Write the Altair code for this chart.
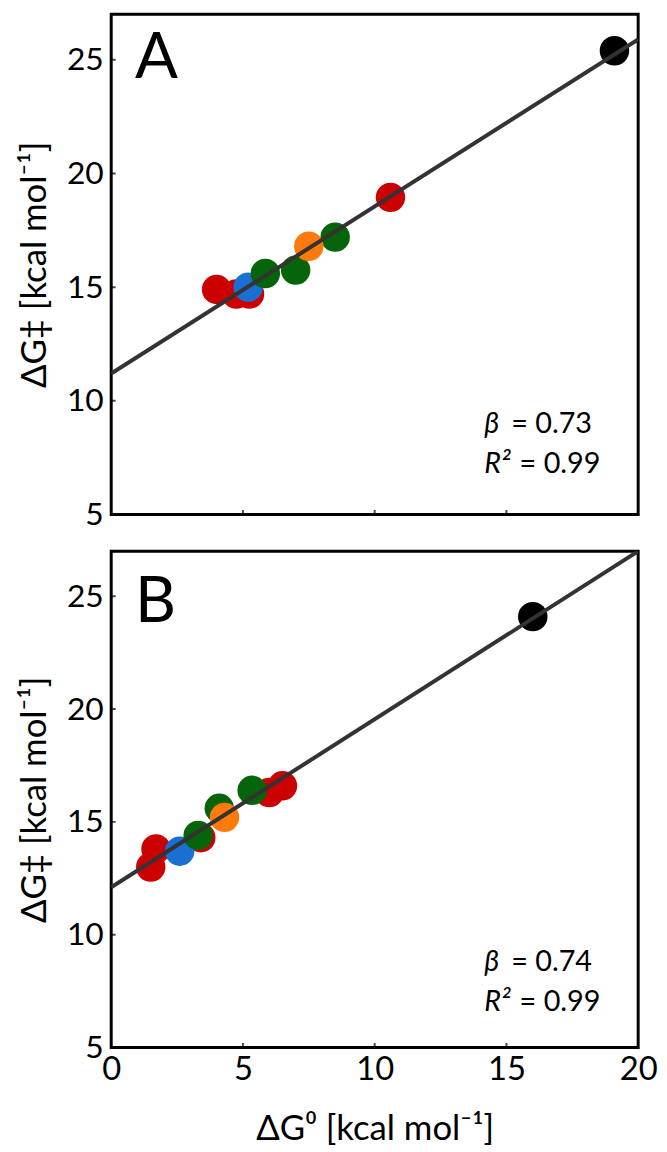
import altair as alt
import pandas as pd

# ---------- data ----------
# Panel A
a_x = [4.0, 4.75, 5.25, 10.6, 5.2, 5.85, 7.0, 8.5, 7.5, 19.1]
a_y = [14.9, 14.7, 14.7, 18.95, 15.0, 15.6, 15.75, 17.2, 16.8, 25.4]
a_c = ["red", "red", "red", "red", "blue", "green", "green", "green", "orange", "black"]
a_fit_x = [0, 20]
a_fit_y = [11.2, 25.9]
a_beta = "= 0.73"
a_r2 = "= 0.99"

# Panel B
b_x = [1.5, 1.7, 3.4, 6.0, 6.5, 2.6, 3.3, 4.1, 5.35, 4.3, 16.0]
b_y = [13.0, 13.8, 14.3, 16.3, 16.6, 13.7, 14.4, 15.6, 16.4, 15.2, 24.1]
b_c = ["red", "red", "red", "red", "red", "blue", "green", "green", "green", "orange", "black"]
b_fit_x = [0, 20]
b_fit_y = [12.1, 27.0]
b_beta = "= 0.74"
b_r2 = "= 0.99"

color_names = ["red", "green", "blue", "orange", "black"]
color_hex = ["#cc0000", "#06640a", "#1a6fd2", "#ff7a0a", "#000000"]

x_ticks = [0, 5, 10, 15, 20]
y_ticks = [5, 10, 15, 20, 25]
inner_x_ticks = [5, 10, 15]
inner_y_ticks = [10, 15, 20, 25]

x_title = "ΔG⁰ [kcal mol⁻¹]"
y_title = "ΔG‡ [kcal mol⁻¹]"

X_DOM = [0, 20]
Y_DOM = [5, 27]


def panel(px, py, pc, fx, fy, letter, letter_y, beta, r2, ann_y, height, show_x):
    xs = alt.Scale(domain=X_DOM, nice=False, zero=False)
    ys = alt.Scale(domain=Y_DOM, nice=False, zero=False)
    if show_x:
        xaxis = alt.Axis(values=x_ticks, title=x_title, grid=False, ticks=False,
                         domain=False, labelPadding=6, titlePadding=26,
                         labelFontSize=33, titleFontSize=35, labelFlush=False)
    else:
        xaxis = None
    yaxis = alt.Axis(values=y_ticks, title=y_title, grid=False, ticks=False,
                     domain=False, labelPadding=8, titlePadding=14,
                     labelFontSize=32, titleFontSize=35, labelFlush=False)

    pts = pd.DataFrame({"x": px, "y": py, "c": pc})
    fit = pd.DataFrame({"x": fx, "y": fy})

    base_x = alt.X("x:Q", scale=xs, axis=xaxis)
    base_y = alt.Y("y:Q", scale=ys, axis=yaxis)

    points = alt.Chart(pts).mark_circle(size=880, opacity=1).encode(
        x=base_x, y=base_y,
        color=alt.Color("c:N", scale=alt.Scale(domain=color_names, range=color_hex), legend=None),
    )
    line = alt.Chart(fit).mark_line(color="#333333", strokeWidth=4, clip=True).encode(
        x=alt.X("x:Q", scale=xs), y=alt.Y("y:Q", scale=ys)
    )
    xt = alt.Chart(pd.DataFrame({"x": inner_x_ticks, "y": [Y_DOM[0]] * len(inner_x_ticks)})).mark_tick(
        orient="vertical", size=9, thickness=2, color="black", clip=True
    ).encode(x=alt.X("x:Q", scale=xs), y=alt.Y("y:Q", scale=ys))
    yt = alt.Chart(pd.DataFrame({"x": [X_DOM[0]] * len(inner_y_ticks), "y": inner_y_ticks})).mark_tick(
        orient="horizontal", size=9, thickness=2, color="black", clip=True
    ).encode(x=alt.X("x:Q", scale=xs), y=alt.Y("y:Q", scale=ys))

    lab = alt.Chart(pd.DataFrame({"x": [0.9], "y": [letter_y], "t": [letter]})).mark_text(
        fontSize=64, align="left", baseline="alphabetic", color="black", font="Lato"
    ).encode(x=alt.X("x:Q", scale=xs), y=alt.Y("y:Q", scale=ys), text="t:N")

    sym = alt.Chart(pd.DataFrame({"x": [14.16, 14.16], "y": ann_y, "t": ["β", "R²"]})).mark_text(
        fontSize=29, align="left", baseline="alphabetic", fontStyle="italic", color="black", font="Lato"
    ).encode(x=alt.X("x:Q", scale=xs), y=alt.Y("y:Q", scale=ys), text="t:N")
    val = alt.Chart(pd.DataFrame({"x": [15.18, 15.5], "y": ann_y, "t": [beta, r2]})).mark_text(
        fontSize=29, align="left", baseline="alphabetic", color="black", font="Lato"
    ).encode(x=alt.X("x:Q", scale=xs), y=alt.Y("y:Q", scale=ys), text="t:N")

    return alt.layer(points, line, xt, yt, lab, sym, val).properties(width=531, height=height)


pa = panel(a_x, a_y, a_c, a_fit_x, a_fit_y, "A", 24.2, a_beta, a_r2, [8.59, 6.81], 504, False)
pb = panel(b_x, b_y, b_c, b_fit_x, b_fit_y, "B", 23.85, b_beta, b_r2, [8.4, 6.6], 500, True)

chart = alt.vconcat(pa, pb, spacing=17).properties(
    padding={"top": 0, "left": 8, "right": 0, "bottom": 0}
).configure(font="Lato").configure_view(
    stroke="black", strokeWidth=3
).configure_axis(labelColor="black", titleColor="black", labelFont="Lato", titleFont="Lato",
                 titleFontWeight="normal")

chart.save("out.html", embed_options={"renderer": "svg", "actions": False})
